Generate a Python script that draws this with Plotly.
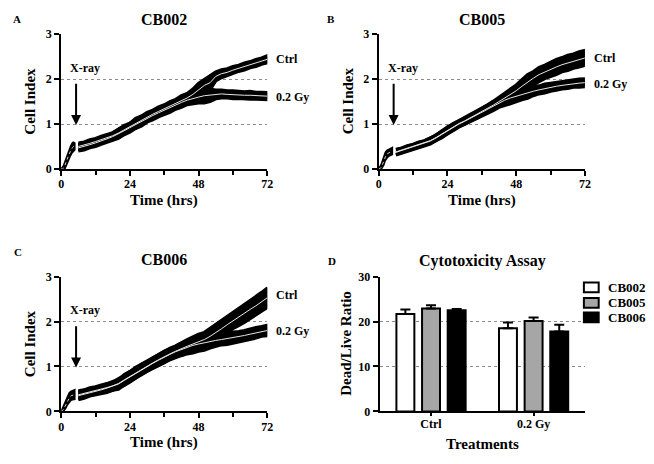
import plotly.graph_objects as go

# ---------------- data ----------------
t_pre = [0, 0.5, 1, 1.5, 2, 2.5, 3, 3.5, 4, 4.5]
t_post = [6, 8, 10, 12, 14, 16, 18, 20, 22, 24, 26, 28, 30, 32, 34, 36, 38, 40,
          42, 44, 46, 48, 50, 52, 54, 56, 58, 60, 62, 64, 66, 68, 70, 72]

# CB002
A_pre_mean = [0.00, 0.00, 0.03, 0.10, 0.20, 0.29, 0.37, 0.43, 0.48, 0.51]
A_pre_sd = [0.01, 0.02, 0.03, 0.05, 0.06, 0.06, 0.07, 0.07, 0.08, 0.08]
A_ctrl_mean = [0.50, 0.53, 0.57, 0.61, 0.65, 0.69, 0.74, 0.80, 0.87, 0.94, 1.02, 1.09,
               1.16, 1.22, 1.28, 1.34, 1.40, 1.46, 1.52, 1.58, 1.66, 1.76, 1.86, 1.92,
               2.06, 2.12, 2.15, 2.20, 2.24, 2.28, 2.32, 2.36, 2.40, 2.44]
A_ctrl_sd = [0.08, 0.07, 0.08, 0.07, 0.08, 0.08, 0.07, 0.09, 0.10, 0.08, 0.11, 0.09,
             0.10, 0.09, 0.10, 0.09, 0.10, 0.09, 0.11, 0.10, 0.12, 0.15, 0.13, 0.16,
             0.10, 0.09, 0.08, 0.08, 0.07, 0.08, 0.07, 0.08, 0.07, 0.08]
A_gy_mean = [0.47, 0.50, 0.54, 0.58, 0.62, 0.67, 0.72, 0.78, 0.85, 0.92, 0.99, 1.06,
             1.13, 1.19, 1.25, 1.31, 1.37, 1.43, 1.48, 1.53, 1.57, 1.60, 1.63, 1.64,
             1.66, 1.67, 1.66, 1.65, 1.65, 1.64, 1.64, 1.63, 1.63, 1.62]
A_gy_sd = [0.07, 0.08, 0.07, 0.08, 0.07, 0.08, 0.08, 0.10, 0.09, 0.10, 0.09, 0.11,
           0.09, 0.10, 0.09, 0.10, 0.11, 0.10, 0.11, 0.10, 0.12, 0.13, 0.16, 0.14,
           0.10, 0.09, 0.08, 0.09, 0.08, 0.08, 0.09, 0.08, 0.08, 0.08]

# CB005
B_pre_mean = [0.00, 0.01, 0.05, 0.14, 0.24, 0.30, 0.34, 0.36, 0.38, 0.39]
B_pre_sd = [0.01, 0.02, 0.03, 0.05, 0.05, 0.06, 0.06, 0.06, 0.06, 0.06]
B_ctrl_mean = [0.38, 0.42, 0.46, 0.50, 0.54, 0.58, 0.63, 0.70, 0.78, 0.86, 0.94, 1.01,
               1.07, 1.14, 1.20, 1.27, 1.34, 1.42, 1.50, 1.58, 1.66, 1.74, 1.84, 1.94,
               2.02, 2.10, 2.16, 2.22, 2.27, 2.32, 2.36, 2.40, 2.44, 2.47]
B_ctrl_sd = [0.06, 0.05, 0.06, 0.05, 0.06, 0.05, 0.06, 0.07, 0.06, 0.08, 0.07, 0.06,
             0.08, 0.07, 0.08, 0.08, 0.09, 0.09, 0.10, 0.11, 0.12, 0.13, 0.15, 0.16,
             0.15, 0.16, 0.15, 0.16, 0.17, 0.16, 0.17, 0.16, 0.17, 0.17]
B_gy_mean = [0.37, 0.41, 0.45, 0.49, 0.53, 0.57, 0.62, 0.69, 0.77, 0.85, 0.93, 1.00,
             1.06, 1.13, 1.19, 1.26, 1.33, 1.40, 1.47, 1.53, 1.58, 1.62, 1.66, 1.70,
             1.73, 1.76, 1.79, 1.82, 1.84, 1.86, 1.88, 1.90, 1.91, 1.92]
B_gy_sd = [0.06, 0.05, 0.06, 0.05, 0.06, 0.06, 0.07, 0.06, 0.08, 0.07, 0.08, 0.07,
           0.07, 0.08, 0.08, 0.09, 0.09, 0.10, 0.10, 0.12, 0.13, 0.13, 0.12, 0.13,
           0.10, 0.09, 0.10, 0.09, 0.09, 0.08, 0.09, 0.08, 0.09, 0.09]

# CB006
C_pre_mean = [0.00, 0.02, 0.07, 0.14, 0.22, 0.28, 0.32, 0.35, 0.36, 0.37]
C_pre_sd = [0.01, 0.02, 0.04, 0.05, 0.06, 0.07, 0.08, 0.08, 0.09, 0.09]
C_ctrl_mean = [0.37, 0.40, 0.44, 0.47, 0.50, 0.53, 0.57, 0.62, 0.70, 0.78, 0.86, 0.94,
               1.01, 1.08, 1.15, 1.22, 1.28, 1.34, 1.40, 1.45, 1.50, 1.55, 1.60, 1.67,
               1.75, 1.84, 1.93, 2.02, 2.10, 2.18, 2.27, 2.35, 2.44, 2.53]
C_ctrl_sd = [0.09, 0.08, 0.09, 0.08, 0.09, 0.09, 0.10, 0.09, 0.12, 0.11, 0.12, 0.11,
             0.12, 0.11, 0.12, 0.12, 0.13, 0.12, 0.14, 0.15, 0.16, 0.17, 0.16, 0.18,
             0.17, 0.18, 0.19, 0.18, 0.19, 0.20, 0.20, 0.21, 0.21, 0.22]
C_gy_mean = [0.35, 0.38, 0.42, 0.45, 0.48, 0.52, 0.56, 0.61, 0.69, 0.77, 0.85, 0.93,
             1.00, 1.07, 1.14, 1.21, 1.27, 1.33, 1.38, 1.43, 1.47, 1.50, 1.53, 1.56,
             1.58, 1.60, 1.62, 1.64, 1.66, 1.69, 1.72, 1.75, 1.78, 1.80]
C_gy_sd = [0.09, 0.09, 0.08, 0.09, 0.09, 0.10, 0.09, 0.12, 0.11, 0.12, 0.11, 0.12,
           0.11, 0.12, 0.12, 0.13, 0.12, 0.13, 0.14, 0.15, 0.17, 0.16, 0.17, 0.15,
           0.13, 0.12, 0.13, 0.12, 0.12, 0.11, 0.12, 0.12, 0.11, 0.12]

# Cytotoxicity assay
treatments = ["Ctrl", "0.2 Gy"]
cell_lines = ["CB002", "CB005", "CB006"]
ratio_mean = {"CB002": [21.7, 18.5], "CB005": [22.9, 20.1], "CB006": [22.5, 17.8]}
ratio_err = {"CB002": [1.0, 1.3], "CB005": [0.7, 0.8], "CB006": [0.3, 1.5]}
bar_colors = {"CB002": "white", "CB005": "#a6a6a6", "CB006": "black"}

panels = [
    dict(letter="A", title="CB002", ax="", pre=(A_pre_mean, A_pre_sd),
         ctrl=(A_ctrl_mean, A_ctrl_sd), gy=(A_gy_mean, A_gy_sd),
         ctrl_lab=2.44, gy_lab=1.60),
    dict(letter="B", title="CB005", ax="2", pre=(B_pre_mean, B_pre_sd),
         ctrl=(B_ctrl_mean, B_ctrl_sd), gy=(B_gy_mean, B_gy_sd),
         ctrl_lab=2.48, gy_lab=1.90),
    dict(letter="C", title="CB006", ax="3", pre=(C_pre_mean, C_pre_sd),
         ctrl=(C_ctrl_mean, C_ctrl_sd), gy=(C_gy_mean, C_gy_sd),
         ctrl_lab=2.60, gy_lab=1.79),
]

# ---------------- layout geometry (pixels) ----------------
W, H = 654, 464
FONT = "Liberation Serif"
px = lambda v: v / W
py = lambda v: 1 - v / H
boxes = {
    "": (59, 268, 28, 167),
    "2": (381, 590, 28, 167),
    "3": (59, 268, 278, 417),
    "4": (382, 590, 278, 417),
}

fig = go.Figure()


def band(t, mean, sd, xa, ya):
    up = [m + s for m, s in zip(mean, sd)]
    lo = [m - s for m, s in zip(mean, sd)]
    fig.add_trace(go.Scatter(
        x=list(t) + list(t)[::-1], y=up + lo[::-1], fill="toself",
        fillcolor="black", line=dict(color="black", width=3),
        mode="lines", hoverinfo="skip", showlegend=False, xaxis=xa, yaxis=ya))


def centre(t, mean, xa, ya, dotted=False):
    fig.add_trace(go.Scatter(
        x=t, y=mean, mode="lines",
        line=dict(color="#d0d0d0" if dotted else "#e6e6e6", width=1,
                  dash="dot" if dotted else "solid"),
        hoverinfo="skip", showlegend=False, xaxis=xa, yaxis=ya))


annotations = []
for p in panels:
    a = p["ax"]
    xa, ya = "x" + a, "y" + a
    band(t_pre, *p["pre"], xa, ya)
    band(t_post, *p["gy"], xa, ya)
    band(t_post, *p["ctrl"], xa, ya)
    centre(t_pre, p["pre"][0], xa, ya, dotted=True)
    centre(t_post, p["gy"][0], xa, ya)
    centre(t_post, p["ctrl"][0], xa, ya)
    annotations += [
        dict(x=72, y=p["ctrl_lab"], xref=xa, yref=ya, text="Ctrl", showarrow=False,
             xanchor="left", xshift=7, font=dict(size=12)),
        dict(x=72, y=p["gy_lab"], xref=xa, yref=ya, text="0.2 Gy", showarrow=False,
             xanchor="left", xshift=7, font=dict(size=12)),
        dict(x=8.3, y=2.25, xref=xa, yref=ya, text="X-ray", showarrow=False,
             font=dict(size=12)),
        dict(x=5.2, y=0.98, xref=xa, yref=ya, ax=5.2, ay=1.93, axref=xa, ayref=ya,
             text="", showarrow=True, arrowhead=2, arrowsize=1, arrowwidth=2,
             arrowcolor="black"),
    ]

for cl in cell_lines:
    fig.add_trace(go.Bar(
        x=treatments, y=ratio_mean[cl], name=cl, showlegend=False,
        marker=dict(color=bar_colors[cl], line=dict(color="black", width=2)),
        error_y=dict(type="data", array=ratio_err[cl], arrayminus=[0, 0],
                     symmetric=False, color="black", thickness=2, width=5),
        xaxis="x4", yaxis="y4"))

axis_common = dict(showline=True, linecolor="black", linewidth=2, ticks="outside",
                   ticklen=5, tickwidth=2, tickcolor="black", mirror=False,
                   zeroline=False, tickfont=dict(size=12, family=FONT, color="black"))

layout = dict(width=W, height=H, margin=dict(l=0, r=0, t=0, b=0),
              paper_bgcolor="white", plot_bgcolor="white",
              font=dict(family=FONT, size=12, color="black", weight="bold"),
              bargap=0.25, bargroupgap=0.3, barmode="group",
              showlegend=False)

for a, (x0, x1, y0, y1) in boxes.items():
    xd = [px(x0), px(x1)]
    yd = [py(y1), py(y0)]
    xk, yk = "xaxis" + a, "yaxis" + a
    if a != "4":
        layout[xk] = dict(axis_common, domain=xd, range=[0, 72], tickvals=[0, 24, 48, 72],
                          anchor="y" + a, showgrid=False, ticklabelstandoff=-2,
                          minor=dict(tickvals=[12, 36, 60], ticks="outside", ticklen=4,
                                     tickwidth=2, tickcolor="black", showgrid=False))
        layout[yk] = dict(axis_common, domain=yd, range=[0, 3], tickvals=[0, 1, 2, 3],
                          anchor="x" + a, showgrid=True, gridcolor="#8c8c8c",
                          griddash="dot", gridwidth=1)
    else:
        layout[xk] = dict(axis_common, domain=xd, type="category", range=[-0.5, 1.5],
                          anchor="y4", showgrid=False, ticklen=3, ticklabelstandoff=-3)
        layout[yk] = dict(axis_common, domain=yd, range=[0, 30], tickvals=[0, 10, 20, 30],
                          anchor="x4", showgrid=True, gridcolor="#8c8c8c",
                          griddash="dot", gridwidth=1)

# legend for the bar panel (box + label per cell line)
shapes = []
leg_y = [289, 305, 320]
for cl, yy in zip(cell_lines, leg_y):
    shapes.append(dict(type="rect", xref="paper", yref="paper",
                       x0=px(589), x1=px(604), y0=py(yy + 5), y1=py(yy - 5),
                       fillcolor=bar_colors[cl], line=dict(color="black", width=2)))
    annotations.append(dict(x=px(611), y=py(yy), xref="paper", yref="paper", text=cl,
                            showarrow=False, xanchor="left", yanchor="middle",
                            font=dict(size=13, family=FONT)))

# titles, panel letters, axis titles
texts = [
    ("A", 14, 12, 11, 0), ("B", 333, 12, 11, 0), ("C", 15, 253, 11, 0), ("D", 334, 262, 11, 0),
    ("CB002", 163.5, 13, 16, 0), ("CB005", 485.5, 13, 16, 0), ("CB006", 163.5, 260, 16, 0),
    ("Cytotoxicity Assay", 486, 262, 16, 0),
    ("Time (hrs)", 163.5, 200, 15, 0), ("Time (hrs)", 485.5, 200, 15, 0),
    ("Time (hrs)", 163.5, 449, 15, 0), ("Treatments", 486, 451, 15, 0),
    ("Cell Index", 27, 97, 15, -90), ("Cell Index", 350, 97, 15, -90),
    ("Cell Index", 27, 347, 15, -90), ("Dead/Live Ratio", 347, 347, 15, -90),
]
for txt, x, y, s, ang in texts:
    annotations.append(dict(x=px(x), y=py(y), xref="paper", yref="paper", text=txt,
                            showarrow=False, textangle=ang, xanchor="center",
                            yanchor="middle", font=dict(size=s, family=FONT)))

layout["annotations"] = annotations
layout["shapes"] = shapes
fig.update_layout(**layout)
fig.write_html("out.html", config={"displayModeBar": False},
               post_script="document.body.style.margin='0';document.body.style.padding='0';")
